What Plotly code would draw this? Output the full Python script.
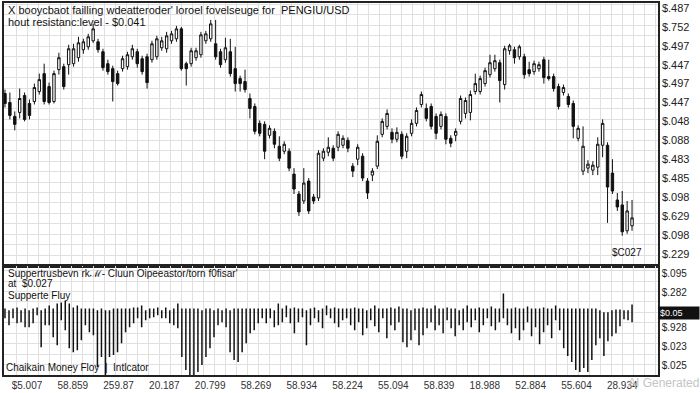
import numpy as np
import plotly.graph_objects as go

# ---------------- data (prices in 1/10000 USD) ----------------
candle_open = [398,389,375,379,396,388,390,400,418,405,
               390,422,425,427,428,434,442,445,451,450,
               440,428,423,418,423,425,435,440,433,435,
               432,435,444,443,451,453,463,428,428,434,
               437,451,453,448,440,432,440,423,413,410,
               393,385,368,367,356,360,345,340,340,317,
               297,290,310,294,293,333,339,343,344,346,
               351,325,332,335,310,316,325,357,365,359,
               352,357,340,358,368,387,383,385,375,365,
               375,353,356,370,378,379,400,400,408,417,
               423,429,407,441,442,435,435,422,420,423,
               432,415,415,405,399,395,388,353,320,323,
               321,324,346,346,318,291,286,260,265]
candle_high = [402,399,380,403,399,392,408,418,428,409,
               421,439,428,447,448,455,453,458,468,453,
               443,432,426,421,436,440,447,443,436,438,
               451,456,455,460,461,466,465,430,444,444,
               460,461,472,472,443,454,453,445,416,422,
               398,388,371,370,366,363,355,350,343,323,
               300,323,313,297,341,343,354,346,360,356,
               354,328,347,338,313,323,356,373,382,363,
               364,360,358,372,384,400,388,388,378,380,
               378,356,363,396,394,401,418,416,424,437,
               437,432,446,448,445,447,438,430,431,430,
               435,432,418,408,407,398,391,366,365,331,
               330,354,372,349,332,298,300,290,291]
candle_low = [384,372,361,373,370,372,387,397,387,387,
              388,417,402,417,425,430,438,442,449,439,
              421,417,390,406,420,422,432,424,417,403,
              429,432,441,439,448,450,421,406,425,431,
              434,448,450,432,424,429,415,400,400,399,
              373,357,355,332,353,343,330,337,320,297,
              275,287,277,287,290,330,335,330,340,343,
              339,314,326,310,292,310,322,354,362,348,
              349,332,333,355,365,384,370,362,352,362,
              347,344,350,367,373,371,397,397,405,414,
              420,389,402,437,428,432,413,415,417,420,
              408,411,400,382,396,384,353,350,316,318,
              316,316,334,268,297,280,255,257,260]
candle_close = [388,376,367,393,372,376,404,412,390,389,
                418,434,405,443,443,449,450,455,463,442,
                424,420,410,408,433,437,443,428,420,409,
                448,453,451,456,458,463,423,423,441,441,
                457,458,468,435,427,444,418,408,408,402,
                383,360,358,340,363,347,333,347,323,302,
                279,308,280,290,338,340,344,333,357,353,
                343,320,344,313,298,320,350,370,378,352,
                359,335,355,368,381,397,373,365,358,377,
                352,348,360,393,391,397,408,413,421,429,
                431,411,443,446,434,445,417,418,428,427,
                414,413,403,385,404,387,365,363,345,327,
                326,347,368,304,300,284,259,280,273]

# money-flow bars (hundredths): top and bottom of each vertical bar
flow_top = [0,-2,0,1,-2,0,-2,0,1,-2,
            0,3,0,5,6,8,5,1,3,0,
            0,0,0,-2,0,-2,-2,0,0,0,
            0,0,1,1,3,-2,0,0,1,-2,
            1,-2,0,5,0,0,0,0,0,-2,
            0,0,-2,0,-2,0,-2,0,0,0,
            0,0,0,0,0,0,0,-2,5,0,
            3,0,1,0,0,-2,0,1,-2,0,
            3,0,1,0,0,0,
            0,1,0,0,-2,0,3,0,0,0,
            1,0,2,0,0,-2,0,0,1,0,
            0,3,0,0,1,0,0,-2,0,3,
            0,0,1,0,0,2,0,0,15,0,
            0,1,0,0,2,0,0,0,1,0,
            0,3,0,0,0,0,0,0,0,0,
            0,0,-2,-4,-4,-2,-1,-1,-2,-2,
            4]
flow_bottom = [-10,-17,-10,-15,-14,-19,-19,-15,-7,-39,
               -17,-17,-29,-37,-12,-22,-40,-44,-42,-32,
               -17,-24,-27,-59,-49,-67,-49,-47,-44,-35,
               -24,-19,-15,-10,-19,-12,-10,-9,-7,-10,
               -10,-15,-17,-20,-49,-62,-69,-67,-64,-57,
               -49,-40,-29,-17,-14,-19,-44,-52,-54,-44,
               -35,-25,-22,-15,-10,-15,-10,-19,-17,-14,
               -9,-15,-25,-14,-9,-37,-17,-10,-14,-20,
               -7,-10,-15,-19,-12,-10,
               -17,-22,-14,-27,-20,-12,-18,-24,-10,-30,
               -17,-22,-14,-34,-39,-32,-22,-37,-27,-20,
               -14,-22,-17,-25,-12,-20,-28,-17,-22,-14,
               -19,-12,-24,-17,-10,-18,-22,-14,-10,-17,
               -25,-20,-32,-22,-14,-28,-19,-36,-24,-17,
               -30,-12,-22,-40,-48,-54,-62,-64,-60,-64,
               -52,-37,-30,-48,-33,-28,-25,-18,-11,-12,
               -14]

x_tick_labels = ["$5.007", "58.859", "259.87", "20.187", "20.799", "58.269", "58.934",
                 "58.224", "55.094", "58.839", "18.988", "52.884", "55.604", "28.934"]
price_tick_labels = ["$.487", "$.752", "$.497", "$.447", "$.497", "$.447", "$.048",
                     "$.088", "$.483", "$.485", "$.098", "$.629", "$.098", "$.229"]
price_tick_values = [484, 465, 446, 427, 408, 389, 370, 351, 332, 313, 294, 275, 256, 237]
flow_tick_labels = ["$.095", "$.282", "$.928", "$.023", "$.025"]
flow_tick_values = [35, 16, -19, -38, -57]

# ---------------- figure ----------------
n = len(candle_open)
idx = list(range(n))
sc = 1e-4

fig = go.Figure()
fig.add_trace(go.Candlestick(
    x=idx,
    open=[v * sc for v in candle_open],
    high=[v * sc for v in candle_high],
    low=[v * sc for v in candle_low],
    close=[v * sc for v in candle_close],
    increasing=dict(line=dict(color="#111111", width=1), fillcolor="#ffffff"),
    decreasing=dict(line=dict(color="#111111", width=1), fillcolor="#111111"),
    whiskerwidth=0, showlegend=False, hoverinfo="skip",
    xaxis="x", yaxis="y"))

fx = np.linspace(0, n - 1, len(flow_top))
xs, ys = [], []
for xv, t, b in zip(fx, flow_top, flow_bottom):
    xs += [xv, xv, None]
    ys += [t / 100, b / 100, None]
fig.add_trace(go.Scatter(x=xs, y=ys, mode="lines",
                         line=dict(color="#111111", width=1.5),
                         showlegend=False, hoverinfo="skip",
                         xaxis="x2", yaxis="y2"))

grid = "#e0e0e0"
border = dict(showline=True, mirror=True, linecolor="#222222", linewidth=1.5, zeroline=False)
tick_font = dict(family="Liberation Sans, Arial, sans-serif", size=11, color="#222222")

xr = [-0.2, 133.3]
fig.update_layout(
    width=700, height=393,
    margin=dict(l=4, r=42, t=1, b=18),
    paper_bgcolor="white", plot_bgcolor="white",
    font=dict(family="Liberation Sans, Arial, sans-serif", color="#111111"),
    xaxis=dict(domain=[0, 1], anchor="y", range=xr, showticklabels=False,
               showgrid=False, ticks="",
               minor=dict(showgrid=True, dtick=2.25, tick0=0, gridcolor=grid),
               rangeslider=dict(visible=False), **border),
    xaxis2=dict(domain=[0, 1], anchor="y2", range=xr, matches="x",
                tickmode="array", tickvals=list(np.linspace(4.5, 126, len(x_tick_labels))),
                ticktext=x_tick_labels, tickfont=dict(tick_font, size=10, color="#333333"),
                showgrid=False, ticks="",
                minor=dict(showgrid=True, dtick=2.25, tick0=0, gridcolor=grid),
                **border),
    yaxis=dict(domain=[0.294, 1], anchor="x", side="right",
               range=[0.0225, 0.0489],
               tickmode="array", tickvals=[v * sc for v in price_tick_values],
               ticktext=price_tick_labels, tickfont=tick_font, ticks="",
               showgrid=False,
               minor=dict(showgrid=True, dtick=0.00105, tick0=0.0225, gridcolor=grid),
               **border),
    yaxis2=dict(domain=[0, 0.294], anchor="x2", side="right",
                range=[-0.67, 0.43],
                tickmode="array", tickvals=[v / 100 for v in flow_tick_values],
                ticktext=flow_tick_labels, tickfont=dict(tick_font, size=10), ticks="",
                showgrid=False,
                minor=dict(showgrid=True, dtick=0.105, tick0=-0.67, gridcolor=grid),
                **border),
)

def note(text, x, y, size=12, xanchor="left", color="#111111", **kw):
    fig.add_annotation(text=text, x=x, y=y, xref="paper", yref="paper",
                       xanchor=xanchor, yanchor="middle", showarrow=False,
                       font=dict(size=size, color=color,
                                 family="Liberation Sans, Arial, sans-serif"), **kw)

note("X booycbaot failling wdeatteroder' loroel fovelseuge for  PENGIU/USD", 0.003, 0.982, 11)
note("hout resistanc:level - $0.041", 0.003, 0.950, 11)
note("Suppertrusbevn r̄kℳ- Cluun Oipeeastor/torn f0fisar'", 0.003, 0.274, 10)
note("at  $0.027", 0.003, 0.245, 10)
note("Supperte Fluy", 0.003, 0.213, 10)
note("Chaikain Money Floy  |  Intlcator", 0.0, 0.019, 10)
note("$C027", 0.953, 0.329, 10, xanchor="center")
note("$0.05", 1.0, 0.168, 9, color="#ffffff", bgcolor="#111111", borderpad=1, width=38, align="left")
note("AI Generated", 1.066, -0.021, 12, xanchor="right", color="#c4c4c4")

fig.write_html("out.html")
